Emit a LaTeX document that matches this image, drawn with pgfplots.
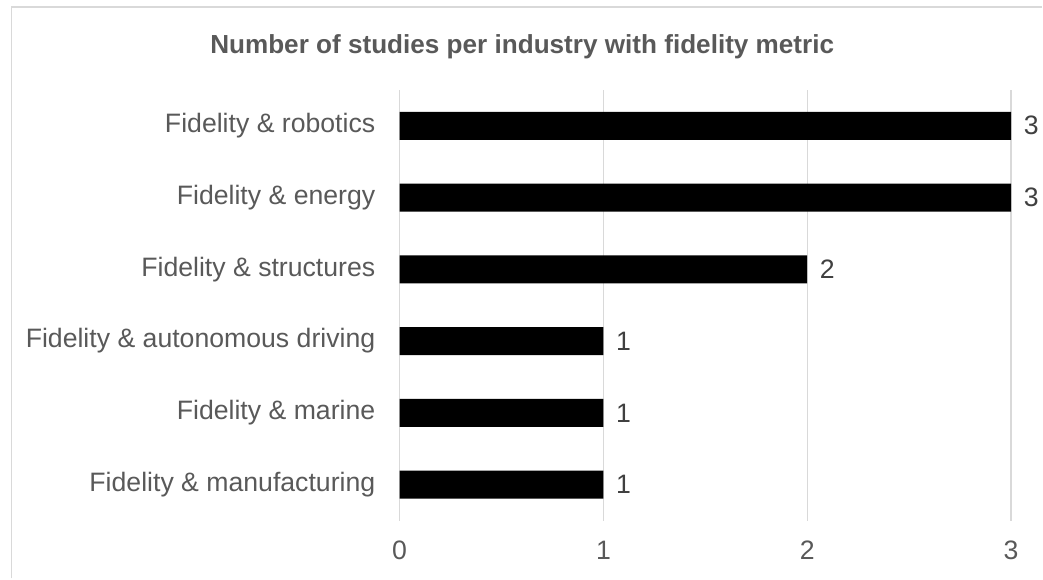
\documentclass[border=0pt]{standalone}
\usepackage{pgfplots}
\pgfplotsset{compat=1.18}
\usepackage{fontspec}
\setmainfont{Liberation Sans}
\definecolor{txt}{HTML}{595959}
\definecolor{lbl}{HTML}{404040}
\definecolor{gridc}{HTML}{D9D9D9}
\begin{document}
\begin{tikzpicture}
\path (0pt,0pt) rectangle (782.25pt,434.25pt);
\draw[gridc, line width=1pt] (8.5pt,0pt) -- (8.5pt,429pt) -- (782.25pt,429pt);
\node[font=\bfseries\fontsize{19.6}{22}\selectfont, text=txt] at (392pt,399pt) {Number of studies per industry with fidelity metric};
\begin{axis}[at={(300pt,43.5pt)}, anchor=south west, scale only axis,
  width=459pt, height=323.25pt,
  xbar, bar width=21pt,
  xmin=0, xmax=3, ymin=-0.5, ymax=5.5,
  xtick={0,1,2,3}, ytick={0,...,5},
  yticklabels={Fidelity \& manufacturing, Fidelity \& marine, Fidelity \& autonomous driving, Fidelity \& structures, Fidelity \& energy, Fidelity \& robotics},
  axis line style={draw=none},
  tick style={draw=none},
  xmajorgrids, major grid style={gridc, line width=1pt},
  ticklabel style={font=\fontsize{20}{24}\selectfont, text=txt},
  yticklabel style={xshift=-10.5pt},
  xticklabel style={yshift=-12pt},
  /pgf/number format/assume math mode=true,
  nodes near coords,
  nodes near coords style={font=\fontsize{20}{24}\selectfont, text=lbl, anchor=west, xshift=6pt},
]
\addplot[fill=black, draw=none] coordinates {(1,0) (1,1) (1,2) (2,3) (3,4) (3,5)};
\end{axis}
\end{tikzpicture}
\end{document}
